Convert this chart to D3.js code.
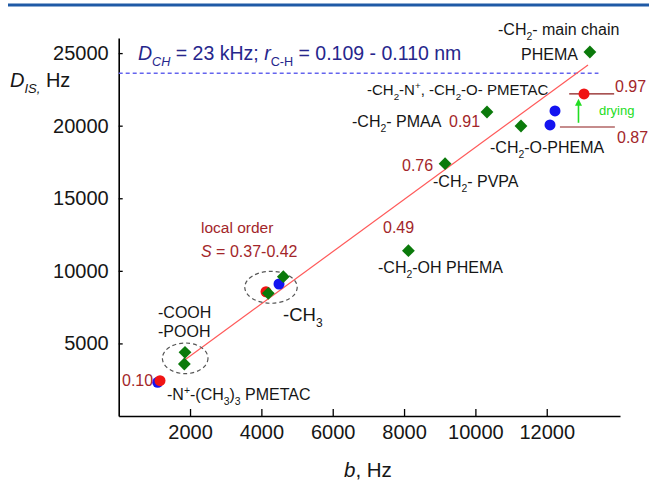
<!DOCTYPE html>
<html>
<head>
<meta charset="utf-8">
<script src="https://cdn.jsdelivr.net/npm/d3@7"></script>
<style>
  body { margin: 0; background: #fff; }
  svg { display: block; font-family: "Liberation Sans", Arial, sans-serif; }
</style>
</head>
<body>
<div id="chart"></div>
<script>
// D_IS vs b: green = polymers, red/blue = PMETAC (wet / dried)
const greenB = [13210, 10325, 11278, 9150, 8122, 4615, 4194, 1859, 1840];
const greenD = [25077, 20944, 19979, 17383, 11388, 9597, 8453, 4389, 3583];
const redB = [13045, 4130, 1158];
const redD = [22184, 8560, 2432];
const blueB = [12232, 12092, 4494, 1093];
const blueD = [21013, 20049, 9094, 2322];

// linear fit and the rigid-limit line D_CH
const fitB = [1811, 13157];
const fitD = [3789, 24182];
const limitD = 23610;
const limitB = [0, 13450];

const xTicks = [2000, 4000, 6000, 8000, 10000, 12000];
const yTicks = [5000, 10000, 15000, 20000, 25000];

const W = 649, H = 481;
const svg = d3.select("#chart").append("svg")
    .attr("width", W)
    .attr("height", H);

const x = d3.scaleLinear().domain([0, 14054]).range([118.7, 620]);
const y = d3.scaleLinear().domain([0, 26040]).range([416, 38]);

const darkRed = "#a3262a";
const ink = "#161616";

// top rule of the figure
svg.append("line")
    .attr("x1", 8).attr("x2", W)
    .attr("y1", 5).attr("y2", 5)
    .attr("stroke", "#1f5aa6")
    .attr("stroke-width", 3);

// axes
const xAxis = svg.append("g")
    .attr("transform", `translate(0,${y(0)})`)
    .call(d3.axisBottom(x).tickValues(xTicks).tickFormat(d3.format("d"))
        .tickSizeInner(-7).tickSizeOuter(0).tickPadding(9));
const yAxis = svg.append("g")
    .attr("transform", `translate(${x(0)},0)`)
    .call(d3.axisLeft(y).tickValues(yTicks).tickFormat(d3.format("d"))
        .tickSizeInner(-4).tickSizeOuter(0).tickPadding(10));

[xAxis, yAxis].forEach(g => {
    g.select(".domain").attr("stroke", "#000").attr("stroke-width", 1.6);
    g.selectAll(".tick line").attr("stroke", "#000").attr("stroke-width", 1.3);
    g.selectAll(".tick text")
        .attr("fill", ink)
        .attr("font-size", 20)
        .attr("font-family", "Liberation Sans, Arial, sans-serif");
});

// rich text helper: parts are [text, kind], kind may hold i (italic), s (sub), p (sup)
function rich(px, py, parts, size, color, anchor) {
    const t = svg.append("text")
        .attr("x", px).attr("y", py)
        .attr("font-size", size)
        .attr("fill", color || ink)
        .attr("text-anchor", anchor || "start");
    let shift = 0;
    parts.forEach(([s, k = ""]) => {
        const target = k.includes("s") ? 0.3 * size : k.includes("p") ? -0.4 * size : 0;
        const ts = t.append("tspan").text(s).attr("dy", target - shift);
        shift = target;
        if (k.includes("s") || k.includes("p")) ts.attr("font-size", size * 0.65);
        if (k.includes("i")) ts.attr("font-style", "italic");
    });
    return t;
}

// axis titles
rich(10, 87, [["D", "i"], ["IS,", "si"], [" Hz"]], 20);
rich(344, 477, [["b", "i"], [", Hz"]], 20.5);

// rigid limit line
svg.append("line")
    .attr("x1", x(limitB[0])).attr("x2", x(limitB[1]))
    .attr("y1", y(limitD)).attr("y2", y(limitD))
    .attr("stroke", "#6464ee")
    .attr("stroke-width", 1.3)
    .attr("stroke-dasharray", "4,3");
rich(138, 60, [["D", "i"], ["CH", "si"], [" = 23 kHz; "], ["r", "i"], ["C-H", "s"], [" = 0.109 - 0.110 nm"]], 19.5, "#26268c");

// fit line
svg.append("line")
    .attr("x1", x(fitB[0])).attr("y1", y(fitD[0]))
    .attr("x2", x(fitB[1])).attr("y2", y(fitD[1]))
    .attr("stroke", "#ff5a5a")
    .attr("stroke-width", 1.2);

// dashed ellipses around the local-order groups
const ellipses = [
    { b: 1864, d: 3975, rx: 22.8, ry: 15.3 },
    { b: 4270, d: 8867, rx: 26.2, ry: 16 }
];
svg.selectAll("ellipse.grp").data(ellipses).join("ellipse")
    .attr("cx", e => x(e.b)).attr("cy", e => y(e.d))
    .attr("rx", e => e.rx).attr("ry", e => e.ry)
    .attr("fill", "none")
    .attr("stroke", "#555")
    .attr("stroke-width", 1.2)
    .attr("stroke-dasharray", "4,3");

// drying markers: dark red leader lines and green arrow
const leaders = [
    { b0: 12630, b1: 13890, d: 22184 },
    { b0: 12370, b1: 13910, d: 19910 }
];
svg.selectAll("line.leader").data(leaders).join("line")
    .attr("x1", l => x(l.b0)).attr("x2", l => x(l.b1))
    .attr("y1", l => y(l.d)).attr("y2", l => y(l.d))
    .attr("stroke", "#8b1a1a")
    .attr("stroke-width", 1.2);

const arrowB = 12890, arrowD0 = 20200, arrowD1 = 21860;
svg.append("line")
    .attr("x1", x(arrowB)).attr("x2", x(arrowB))
    .attr("y1", y(arrowD0)).attr("y2", y(arrowD1) + 5)
    .attr("stroke", "#22dd22")
    .attr("stroke-width", 1.6);
svg.append("path")
    .attr("d", `M${x(arrowB)},${y(arrowD1)} l-3.5,7 l7,0 z`)
    .attr("fill", "#22dd22");

// points
const blue = blueB.map((b, i) => ({ b, d: blueD[i] }));
const red = redB.map((b, i) => ({ b, d: redD[i] }));
const green = greenB.map((b, i) => ({ b, d: greenD[i] }));

svg.selectAll("circle.blue").data(blue).join("circle")
    .attr("cx", p => x(p.b)).attr("cy", p => y(p.d))
    .attr("r", 5.5).attr("fill", "#1414f0");
svg.selectAll("circle.red").data(red).join("circle")
    .attr("cx", p => x(p.b)).attr("cy", p => y(p.d))
    .attr("r", 5.5).attr("fill", "#f01414");
svg.selectAll("path.green").data(green).join("path")
    .attr("d", d3.symbol(d3.symbolSquare, 82))
    .attr("transform", p => `translate(${x(p.b)},${y(p.d)}) rotate(45)`)
    .attr("fill", "#0b7a0b");

// annotations
rich(498, 35, [["-CH"], ["2", "s"], ["- main chain"]], 16);
rich(578, 60, [["PHEMA"]], 16, ink, "end");
rich(367, 95, [["-CH"], ["2", "s"], ["-N"], ["+", "p"], [", -CH"], ["2", "s"], ["-O- PMETAC"]], 15);
rich(352, 127, [["-CH"], ["2", "s"], ["- PMAA"]], 16);
rich(449, 127, [["0.91"]], 16, darkRed);
rich(490, 153, [["-CH"], ["2", "s"], ["-O-PHEMA"]], 16);
rich(615, 92, [["0.97"]], 16, darkRed);
rich(617, 143, [["0.87"]], 16, darkRed);
rich(599, 115, [["drying"]], 13, "#22dd22");
rich(402, 170.5, [["0.76"]], 16, darkRed);
rich(433, 187, [["-CH"], ["2", "s"], ["- PVPA"]], 16);
rich(383, 233, [["0.49"]], 16, darkRed);
rich(378, 273, [["-CH"], ["2", "s"], ["-OH PHEMA"]], 16);
rich(201, 233, [["local order"]], 15.5, darkRed);
rich(201, 257, [["S", "i"], [" = 0.37-0.42"]], 16, darkRed);
rich(283, 321, [["-CH"], ["3", "s"]], 18.5);
rich(158, 318, [["-COOH"]], 16);
rich(158, 337, [["-POOH"]], 16);
rich(122, 386, [["0.10"]], 16, darkRed);
rich(167, 400, [["-N"], ["+", "p"], ["-(CH"], ["3", "s"], [")"], ["3", "s"], [" PMETAC"]], 16);
</script>
</body>
</html>
